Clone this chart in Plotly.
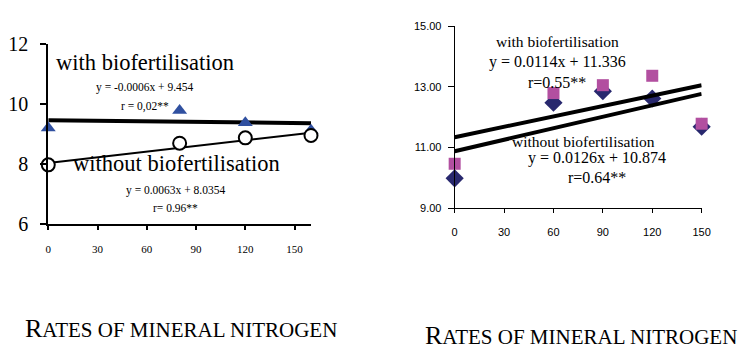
import plotly.graph_objects as go

W, H = 751, 357

# ---- data (left panel) ----
left_x_with = [0, 80, 120, 160]
left_y_with = [9.2, 9.78, 9.37, 9.12]
left_x_without = [0, 80, 120, 160]
left_y_without = [7.97, 8.69, 8.87, 8.95]
left_fit_with = (-0.0006, 9.454)
left_fit_without = (0.0063, 8.0354)
left_fit_x = [0, 160]
left_xticks = [0, 30, 60, 90, 120, 150]
left_yticks = [6, 8, 10, 12]

# ---- data (right panel) ----
right_x = [0, 60, 90, 120, 150]
right_y_with = [10.46, 12.79, 13.05, 13.36, 11.78]
right_y_without = [9.98, 12.47, 12.85, 12.61, 11.68]
right_fit_with = (0.0114, 11.336)
right_fit_without = (0.0126, 10.874)
right_fit_x = [0, 150]
right_xticks = [0, 30, 60, 90, 120, 150]
right_yticks = [9, 11, 13, 15]

SERIF = "Liberation Serif"
SANS = "Liberation Sans"


def px(x):
    return x / W


def py(y):
    return 1 - y / H


fig = go.Figure()

# left panel
fig.add_trace(go.Scatter(x=left_fit_x, y=[left_fit_with[0] * v + left_fit_with[1] for v in left_fit_x],
                         mode="lines", line=dict(color="black", width=4), xaxis="x", yaxis="y",
                         showlegend=False, hoverinfo="skip"))
fig.add_trace(go.Scatter(x=left_fit_x, y=[left_fit_without[0] * v + left_fit_without[1] for v in left_fit_x],
                         mode="lines", line=dict(color="black", width=2), xaxis="x", yaxis="y",
                         showlegend=False, hoverinfo="skip"))
fig.add_trace(go.Scatter(x=left_x_with, y=left_y_with, mode="markers",
                         marker=dict(symbol="triangle-up", size=13, color="#3050A0"),
                         xaxis="x", yaxis="y", showlegend=False, cliponaxis=False))
fig.add_trace(go.Scatter(x=left_x_without, y=left_y_without, mode="markers",
                         marker=dict(symbol="circle", size=13, color="white",
                                     line=dict(color="black", width=2)),
                         xaxis="x", yaxis="y", showlegend=False, cliponaxis=False))

# right panel
fig.add_trace(go.Scatter(x=right_x, y=right_y_without, mode="markers",
                         marker=dict(symbol="diamond", size=14, color="#28286E"),
                         xaxis="x2", yaxis="y2", showlegend=False, cliponaxis=False))
fig.add_trace(go.Scatter(x=right_x, y=right_y_with, mode="markers",
                         marker=dict(symbol="square", size=12, color="#B24FA0"),
                         xaxis="x2", yaxis="y2", showlegend=False, cliponaxis=False))
fig.add_trace(go.Scatter(x=right_fit_x, y=[right_fit_with[0] * v + right_fit_with[1] for v in right_fit_x],
                         mode="lines", line=dict(color="black", width=4), xaxis="x2", yaxis="y2",
                         showlegend=False, hoverinfo="skip"))
fig.add_trace(go.Scatter(x=right_fit_x, y=[right_fit_without[0] * v + right_fit_without[1] for v in right_fit_x],
                         mode="lines", line=dict(color="black", width=4), xaxis="x2", yaxis="y2",
                         showlegend=False, hoverinfo="skip"))

annotations = [
    # left panel
    dict(x=px(144), y=py(55), text="with biofertilisation", font=dict(family=SERIF, size=22.5, color="black")),
    dict(x=px(144.5), y=py(82), text="y = -0.0006x + 9.454", font=dict(family=SERIF, size=11.5, color="black")),
    dict(x=px(144), y=py(102), text="r = 0,02**", font=dict(family=SERIF, size=11.5, color="black")),
    dict(x=px(176), y=py(162), text="without biofertilisation", font=dict(family=SERIF, size=22.5, color="black")),
    dict(x=px(175), y=py(191), text="y = 0.0063x + 8.0354", font=dict(family=SERIF, size=11.5, color="black")),
    dict(x=px(175.5), y=py(210), text="r= 0.96**", font=dict(family=SERIF, size=11.5, color="black")),
    # right panel
    dict(x=px(564), y=py(33), text="with biofertilisation", font=dict(family=SERIF, size=15.5, color="black")),
    dict(x=px(563.5), y=py(54), text="y = 0.0114x + 11.336", font=dict(family=SERIF, size=16, color="black")),
    dict(x=px(563.5), y=py(76), text="r=0.55**", font=dict(family=SERIF, size=16, color="black")),
    dict(x=px(590), y=py(139), text="without biofertilisation", font=dict(family=SERIF, size=15.5, color="black")),
    dict(x=px(603.5), y=py(157), text="y = 0.0126x + 10.874", font=dict(family=SERIF, size=16, color="black")),
    dict(x=px(603.5), y=py(177), text="r=0.64**", font=dict(family=SERIF, size=16, color="black")),
    # axis captions
    dict(x=px(181), y=py(338), text='R<span style="font-size:21px">ATES OF MINERAL NITROGEN</span>',
         font=dict(family=SERIF, size=26, color="black")),
    dict(x=px(587), y=py(346), text='R<span style="font-size:21px">ATES OF MINERAL NITROGEN</span>',
         font=dict(family=SERIF, size=26, color="black")),
]
for a in annotations:
    a.update(xref="paper", yref="paper", showarrow=False, xanchor="center", yanchor="middle")

fig.update_layout(
    width=W, height=H,
    margin=dict(l=0, r=0, t=0, b=0),
    paper_bgcolor="white", plot_bgcolor="white",
    annotations=annotations,
    xaxis=dict(domain=[px(46), px(313)], range=[0, 160], tickvals=left_xticks,
               showline=True, linecolor="black", linewidth=2, showgrid=False, zeroline=False,
               ticks="outside", ticklen=4, tickwidth=1.5, tickcolor="black",
               tickfont=dict(family=SERIF, size=11, color="black"), anchor="y", ticklabelstandoff=10),
    yaxis=dict(domain=[py(227), py(35)], range=[6, 12], tickvals=left_yticks,
               showline=True, linecolor="black", linewidth=2, showgrid=False, zeroline=False,
               ticks="outside", ticklen=6, tickwidth=1.5, tickcolor="black",
               tickfont=dict(family=SERIF, size=20, color="black"), anchor="x", ticklabelstandoff=8),
    xaxis2=dict(domain=[px(459), px(710)], range=[0, 150], tickvals=right_xticks,
                showline=True, linecolor="black", linewidth=1, showgrid=False, zeroline=False,
                ticks="outside", ticklen=4, tickwidth=1, tickcolor="black",
                tickfont=dict(family=SANS, size=11, color="black"), anchor="y2", ticklabelstandoff=10),
    yaxis2=dict(domain=[py(210), py(16)], range=[9, 15], tickvals=right_yticks,
                tickformat=".2f",
                showline=True, linecolor="black", linewidth=1, showgrid=False, zeroline=False,
                ticks="outside", ticklen=6, tickwidth=1, tickcolor="black",
                tickfont=dict(family=SANS, size=11, color="black"), anchor="x2", ticklabelstandoff=4),
)

fig.write_html("out.html", config={"displayModeBar": False},
               post_script="document.body.style.margin='0';document.body.style.overflow='hidden';")
